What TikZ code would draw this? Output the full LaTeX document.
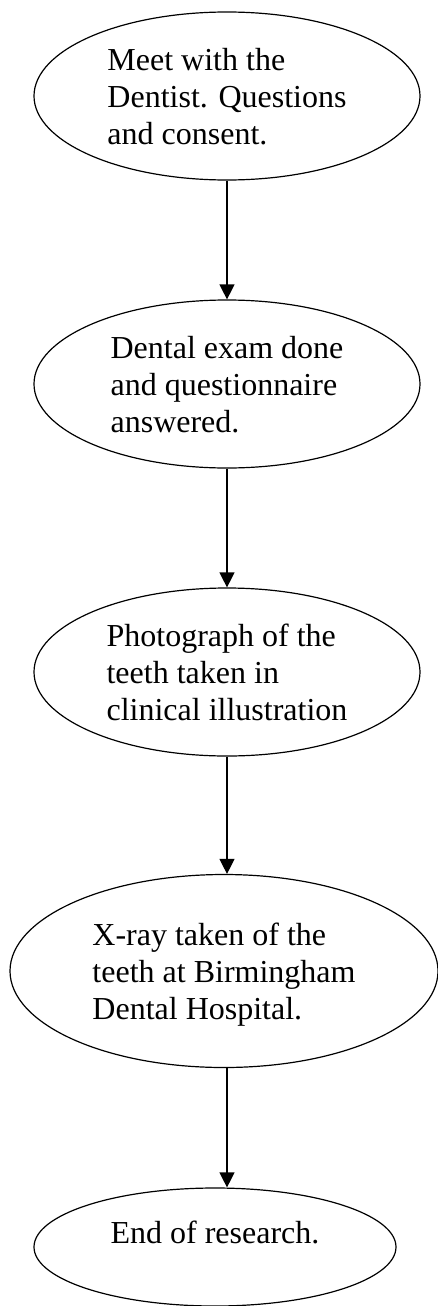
\documentclass[tikz,border=0pt]{standalone}
\usepackage{fontspec}
\setmainfont{Liberation Serif}
\usetikzlibrary{arrows.meta,shapes.geometric,positioning}

\begin{document}
\begin{tikzpicture}[node distance=288pt,on grid,
    stage/.style={draw, ellipse, line width=1.2pt, inner sep=0pt, align=left, text depth=0pt,
      font=\fontsize{32}{37}\selectfont, minimum width=386pt, minimum height=168pt}]
            \useasboundingbox (0,0) rectangle (438pt,-1306pt);
            \node[stage]  (meet) at (227pt,-96pt) {Meet with the\\Dentist. Questions\\and consent.};
            \node[stage]  (exam) [below=of meet] {Dental exam done\\and questionnaire\\answered.};
            \node[stage]  (photo) [below=of exam] {Photograph of the\\teeth taken in\\clinical illustration};
            \node[stage, minimum width=428pt, minimum height=193pt]  (xray) [below=299pt of photo, xshift=-3pt] {X-ray taken of the\\teeth at Birmingham\\Dental Hospital.};
            \node[stage, minimum width=362pt, minimum height=118pt, text height=22pt, text depth=30pt]  (end) [below=276pt of xray, xshift=-9pt] {End of research.};

            \path[-{Triangle[width=15pt,length=15pt]}, line width=1.2pt]
            (meet) edge (exam)
            (exam) edge (photo)
            (photo.south) edge (photo.south |- xray.north)
            (xray.south -| photo.south) edge (photo.south |- end.north)
            ;
    \end{tikzpicture}
\end{document}
